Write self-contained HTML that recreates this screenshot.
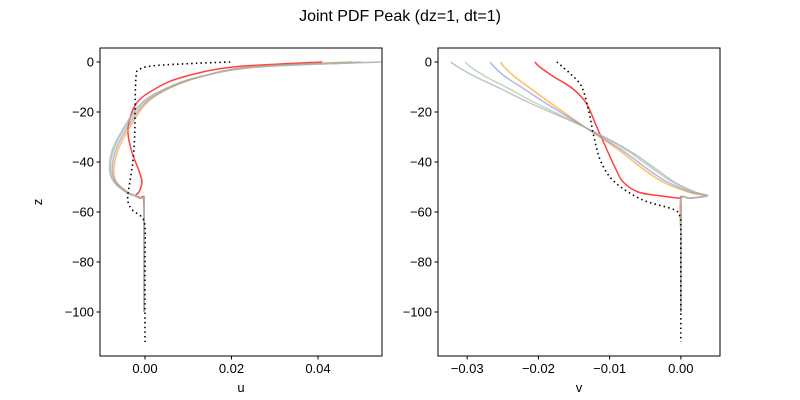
<!DOCTYPE html>
<html><head><meta charset="utf-8"><style>
body{margin:0;background:#fff}
svg{display:block;font-family:"Liberation Sans","DejaVu Sans",sans-serif}
</style></head><body>
<svg id="fig" width="800" height="400" viewBox="0 0 800 400" xmlns="http://www.w3.org/2000/svg">
<rect width="800" height="400" fill="#fff"/>
<text x="400" y="21" font-size="16" text-anchor="middle">Joint PDF Peak (dz=1, dt=1)</text>
<g id="p1"></g>
<g id="p2"></g>
</svg>
<script>
// shared depth grid
const zGrid = [0,-2,-6,-10.4,-16.4,-26,-35,-43,-48,-52,-53.5,-54.5,-55,-70,-100];
// u panel
const uRed    = [0.041,0.0204,0.0088,0.0027,-0.0019,-0.0039,-0.0032,-0.0015,-0.0007,-0.0014,-0.0022,-0.0010,-0.0003,-0.0002,-0.0002];
const uOrange = [0.048,0.024,0.0127,0.0058,0.0004,-0.0035,-0.0062,-0.0072,-0.0066,-0.0040,-0.0022,-0.0004,-0.0002,-0.0002,-0.0002];
const uBlue   = [0.050,0.025,0.0126,0.0055,0.0000,-0.0040,-0.0067,-0.0076,-0.0068,-0.0042,-0.0023,-0.0004,-0.0002,-0.0002,-0.0002];
const uGreen  = [0.054,0.026,0.0125,0.0052,-0.0005,-0.0045,-0.0072,-0.0080,-0.0071,-0.0044,-0.0024,-0.0004,-0.0002,-0.0002,-0.0002];
const uGray   = [0.055,0.026,0.0124,0.0050,-0.0008,-0.0048,-0.0075,-0.0082,-0.0072,-0.0045,-0.0024,-0.0004,-0.0002,-0.0002,-0.0002];
const zObs = [0,-0.5,-1.5,-3,-5,-10,-20,-30,-40,-48,-55,-59,-62,-66,-80,-100,-112];
const uObs = [0.0197,0.012,0.002,-0.0014,-0.0020,-0.0022,-0.0023,-0.0024,-0.0028,-0.0035,-0.0040,-0.0030,-0.0008,0,0,0,0];
// v panel
const vRed    = [-0.0205,-0.0198,-0.0178,-0.0153,-0.0133,-0.0118,-0.0104,-0.0091,-0.0081,-0.0060,-0.0030,-0.0002,0,0,0];
const vOrange = [-0.0253,-0.0248,-0.0233,-0.0212,-0.0183,-0.0135,-0.0088,-0.0052,-0.0025,0.0010,0.0034,0.0012,0,0,0];
const vBlue   = [-0.0268,-0.0262,-0.0246,-0.0222,-0.0190,-0.0135,-0.0084,-0.0046,-0.0019,0.0014,0.0036,0.0013,0,0,0];
const vGreen  = [-0.0303,-0.0295,-0.0273,-0.0243,-0.0204,-0.0135,-0.0078,-0.0038,-0.0012,0.0018,0.0037,0.0013,0,0,0];
const vGray   = [-0.0323,-0.0313,-0.0288,-0.0255,-0.0212,-0.0136,-0.0075,-0.0034,-0.0009,0.0020,0.0038,0.0013,0,0,0];
const vObs = [-0.0174,-0.0172,-0.0168,-0.0162,-0.0154,-0.0139,-0.0129,-0.0122,-0.0112,-0.0093,-0.0055,-0.0010,-0.0001,0,0,0,0];
const uTicks = [0.00,0.02,0.04];
const uTickLabels = ["0.00","0.02","0.04"];
const vTicks = [-0.03,-0.02,-0.01,0.00];
const vTickLabels = ["\u22120.03","\u22120.02","\u22120.01","0.00"];
const zTicks = [0,-20,-40,-60,-80,-100];
const zTickLabels = ["0","\u221220","\u221240","\u221260","\u221280","\u2212100"];

const NS="http://www.w3.org/2000/svg";
function mk(parent,tag,attrs){const e=document.createElementNS(NS,tag);for(const k in attrs)e.setAttribute(k,attrs[k]);parent.appendChild(e);return e;}
function yScale(z){return 62+(0-z)*2.5;}
function smoothPath(pts){
  let d="M"+pts[0][0].toFixed(2)+","+pts[0][1].toFixed(2);
  for(let i=0;i<pts.length-1;i++){
    const p0=pts[i-1]||pts[i],p1=pts[i],p2=pts[i+1],p3=pts[i+2]||pts[i+1];
    const c1=[p1[0]+(p2[0]-p0[0])/6,p1[1]+(p2[1]-p0[1])/6];
    const c2=[p2[0]-(p3[0]-p1[0])/6,p2[1]-(p3[1]-p1[1])/6];
    d+=" C"+c1[0].toFixed(2)+","+c1[1].toFixed(2)+" "+c2[0].toFixed(2)+","+c2[1].toFixed(2)+" "+p2[0].toFixed(2)+","+p2[1].toFixed(2);
  }
  return d;
}
function panel(g,x0,x1,xmin,xmax,series,obsX,ticks,tickLabels,xlabel,ylab,prefix){
  const xs=v=>x0+(v-xmin)/(xmax-xmin)*(x1-x0);
  const clip=mk(g,"clipPath",{id:prefix+"clip"});
  mk(clip,"rect",{x:x0,y:48,width:x1-x0,height:308});
  const lines=mk(g,"g",{"clip-path":"url(#"+prefix+"clip)"});
  series.forEach(s=>{
    const pts=s.vals.map((v,i)=>[xs(v),yScale(zGrid[i])]);
    const p=mk(lines,"path",{d:smoothPath(pts),fill:"none",stroke:s.color,"stroke-width":1.5,"stroke-opacity":s.op});
    
    
  });
  const op=mk(lines,"path",{d:smoothPath(obsX.map((v,i)=>[xs(v),yScale(zObs[i])])),fill:"none",stroke:"#000","stroke-width":1.6,"stroke-dasharray":"1.5,3.2"});
  
  
  const fr=mk(g,"rect",{x:x0,y:48,width:x1-x0,height:308,fill:"none",stroke:"#000","stroke-width":1});
  
  
  ticks.forEach((t,i)=>{
    const x=xs(t);
    mk(g,"line",{x1:x,x2:x,y1:356,y2:359.5,stroke:"#000"});
    const tx=mk(g,"text",{x:x,y:373,"font-size":13,"text-anchor":"middle"});tx.textContent=tickLabels[i];
    
    
  });
  zTicks.forEach((t,i)=>{
    const y=yScale(t);
    mk(g,"line",{x1:x0-3.5,x2:x0,y1:y,y2:y,stroke:"#000"});
    const tx=mk(g,"text",{x:x0-6,y:y+4.5,"font-size":13,"text-anchor":"end"});tx.textContent=zTickLabels[i];
    
    
  });
  const xl=mk(g,"text",{x:(x0+x1)/2,y:392,"font-size":13,"text-anchor":"middle"});xl.textContent=xlabel;
  
  
  if(ylab){
    const yl=mk(g,"text",{x:42,y:202,"font-size":13,"text-anchor":"middle",transform:"rotate(-90 42 202)"});yl.textContent=ylab;
    
    
  }
}
const cols=[["red","#ff0000",0.75],["orange","#ffa31a",0.7],["blue","#8080e6",0.6],["green","#8fbf8f",0.6],["gray","#b0b0b0",0.75]];
const uS=[uRed,uOrange,uBlue,uGreen,uGray], vS=[vRed,vOrange,vBlue,vGreen,vGray];
panel(document.getElementById("p1"),100,382,-0.0104,0.0548,cols.map((c,i)=>({name:c[0],color:c[1],op:c[2],vals:uS[i]})),uObs,uTicks,uTickLabels,"u","z","u");
panel(document.getElementById("p2"),438,720,-0.0341,0.0055,cols.map((c,i)=>({name:c[0],color:c[1],op:c[2],vals:vS[i]})),vObs,vTicks,vTickLabels,"v",null,"v");
</script>
</body></html>
